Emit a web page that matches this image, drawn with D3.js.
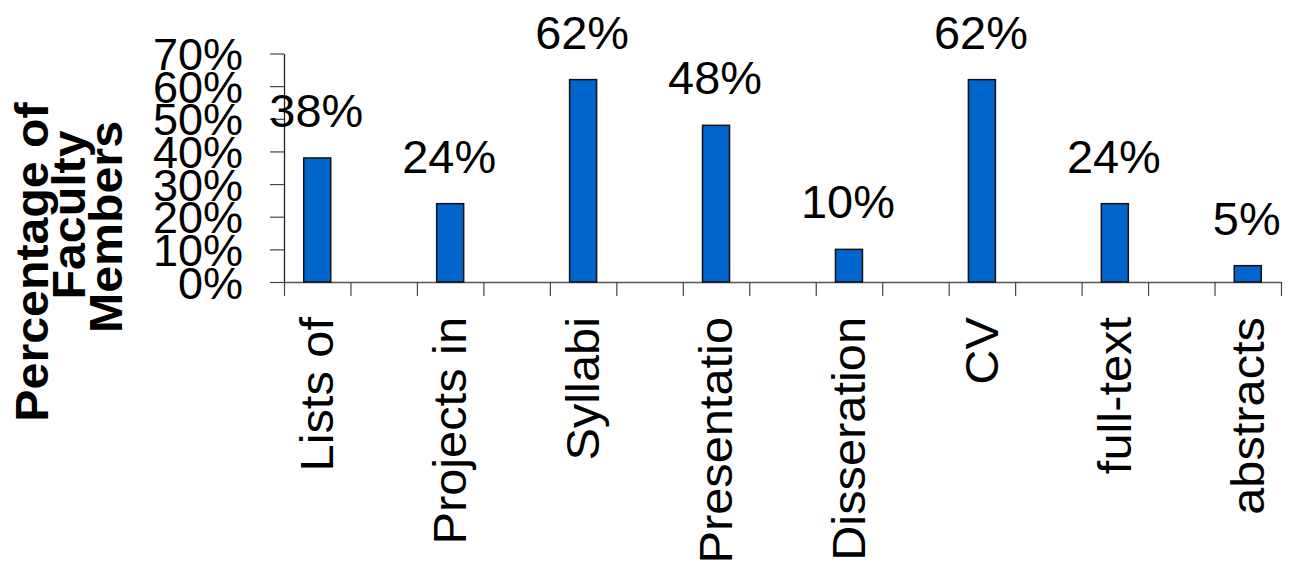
<!DOCTYPE html>
<html>
<head>
<meta charset="utf-8">
<script src="https://cdn.jsdelivr.net/npm/d3@7"></script>
<style>
  html, body { margin: 0; padding: 0; background: #fff; }
  svg { display: block; }
</style>
</head>
<body>
<svg id="chart" width="1300" height="567"></svg>
<script>
// Share of faculty members posting each kind of material
const categories = ["Lists of", "Projects in", "Syllabi", "Presentatio", "Disseration", "CV", "full-text", "abstracts"];
const values = [38, 24, 62, 48, 10, 62, 24, 5];
const yTicks = [0, 10, 20, 30, 40, 50, 60, 70];
const titleLines = ["Percentage of", "Faculty", "Members"];

const FONT = "'Liberation Sans', Arial, Helvetica, sans-serif";
const svg = d3.select("#chart");

const plot = { left: 284, right: 1281, top: 53.5, bottom: 282 };

// Category centres sit half a slot inside the axis; ticks every half slot
const x = d3.scaleLinear()
  .domain([-0.25, categories.length - 0.75])
  .range([plot.left, plot.right]);
const y = d3.scaleLinear()
  .domain([0, 70])
  .range([plot.bottom, plot.top]);

const barWidth = 27;

// Y axis
const yAxis = svg.append("g")
  .attr("transform", `translate(${plot.left},0)`)
  .call(d3.axisLeft(y).tickValues(yTicks).tickSize(14).tickSizeOuter(0)
    .tickPadding(27).tickFormat(d => d + "%"));
yAxis.select(".domain").attr("stroke", "#222").attr("stroke-width", 1.3);
yAxis.selectAll(".tick line").attr("stroke", "#444").attr("stroke-width", 1.2);
yAxis.selectAll(".tick text")
  .attr("font-family", FONT).attr("font-size", 45).attr("fill", "#000")
  .attr("dy", "0.36em");

// X axis
const tickVals = d3.range(0, 2 * categories.length).map(k => -0.25 + k * 0.5);
const xAxis = svg.append("g")
  .attr("transform", `translate(0,${plot.bottom})`)
  .call(d3.axisBottom(x).tickValues(tickVals).tickSize(14).tickSizeOuter(0).tickFormat(""));
xAxis.select(".domain").attr("stroke", "#555").attr("stroke-width", 1.3);
xAxis.selectAll(".tick line").attr("stroke", "#444").attr("stroke-width", 1.2);

// Bars
svg.append("g").selectAll("rect")
  .data(values)
  .join("rect")
  .attr("x", (d, i) => x(i) - barWidth / 2)
  .attr("y", d => y(d))
  .attr("width", barWidth)
  .attr("height", d => y(0) - y(d))
  .attr("fill", "#0066CC")
  .attr("stroke", "#111")
  .attr("stroke-width", 1.5);

// Value labels
svg.append("g").selectAll("text")
  .data(values)
  .join("text")
  .attr("transform", (d, i) => `translate(${x(i) - 1},${y(d) - 31}) scale(1.02,1)`)
  .attr("text-anchor", "middle")
  .attr("font-family", FONT)
  .attr("font-size", 46)
  .attr("fill", "#000")
  .text(d => d + "%");

// Category labels, rotated and slightly widened along the text
svg.append("g").selectAll("text")
  .data(categories)
  .join("text")
  .attr("transform", (d, i) => `translate(${x(i)},317) rotate(-90) scale(1.06,1)`)
  .attr("text-anchor", "end")
  .attr("dy", "0.35em")
  .attr("font-family", FONT)
  .attr("font-size", 46)
  .attr("fill", "#000")
  .text(d => d);

// Axis title, three rotated lines
const titlePos = [
  { bx: 48, cy: 262 },
  { bx: 85, cy: 215 },
  { bx: 122, cy: 227 }
];
svg.append("g").selectAll("text")
  .data(titleLines)
  .join("text")
  .attr("transform", (d, i) => `translate(${titlePos[i].bx},${titlePos[i].cy}) rotate(-90) scale(1.05,1)`)
  .attr("text-anchor", "middle")
  .attr("font-family", FONT)
  .attr("font-weight", "bold")
  .attr("font-size", 46)
  .attr("fill", "#000")
  .text(d => d);
</script>
</body>
</html>
